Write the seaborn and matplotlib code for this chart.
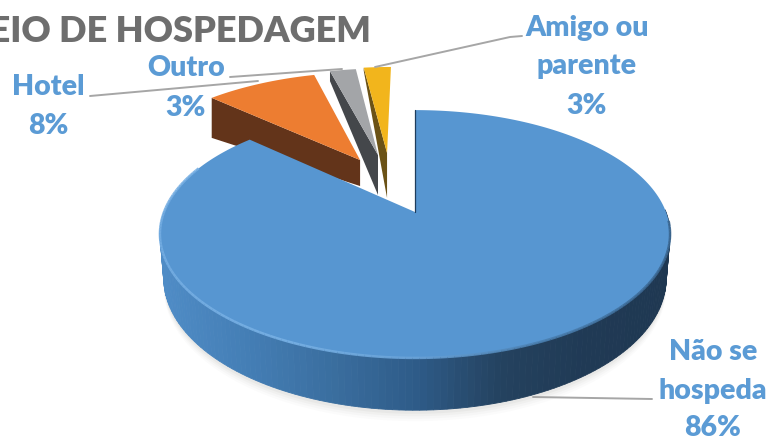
import numpy as np
import matplotlib
matplotlib.use("Agg")
import matplotlib.pyplot as plt
import seaborn as sns

title = "MEIO DE HOSPEDAGEM"
categories = ["Não se hospeda", "Hotel", "Outro", "Amigo ou parente"]
shares = [86.8, 8.9, 2.1, 2.2]
label_pct = [86, 8, 3, 3]

BLUE = "#5796d1"
LABEL = "#5b9bd5"
top_colors = {"Não se hospeda": BLUE, "Amigo ou parente": "#f2b51c", "Outro": "#a3a5a8", "Hotel": "#ed7d31"}
side_colors = {"Amigo ou parente": "#6b5216", "Outro": "#44474b", "Hotel": "#63341a"}
# wall height at outer corner and at apex, per exploded slice
side_depth = {"Amigo ou parente": (3, 45), "Outro": (10, 40), "Hotel": (40, 26)}
# explosion offset of each slice in disk units
explode = {"Amigo ou parente": (-0.122, 0.539), "Outro": (-0.161, 0.519), "Hotel": (-0.237, 0.469)}

# perspective disk
CX, CY, RX, RY, K = 415, 212, 251, 120, 0.1776
DEPTH = 43


def project(u, v, z=0.0):
    s = 1 / (1 + K * v)
    shrink = 1 - 0.015 * (z > 0)
    return CX + RX * u * s * shrink, CY - RY * v * s + z * s


sns.set_theme(style="white")
plt.rcParams["font.family"] = ["Lato", "DejaVu Sans"]
fig = plt.figure(figsize=(7.72, 4.41), dpi=100)
ax = fig.add_axes([0, 0, 1, 1])
ax.set_xlim(0, 772)
ax.set_ylim(441, 0)
ax.axis("off")

# clockwise angles from 12 o'clock, blue starts at 0
start = {}
ang = 0.0
for name, val in zip(categories, shares):
    start[name] = (ang, ang + val * 3.6)
    ang += val * 3.6

a0, a1 = np.radians(start["Não se hospeda"])
arc = np.linspace(a0, a1, 240)

# soft shadow under the disk
for off, alpha in [(9, 0.03), (7, 0.04), (5, 0.05), (3, 0.07)]:
    full = np.linspace(np.pi * 0.45, np.pi * 1.6, 120)
    sx, sy = project(np.sin(full), np.cos(full), DEPTH + off)
    ax.fill(np.r_[sx, CX], np.r_[sy, CY], color="#8c8c80", alpha=alpha, lw=0, zorder=1)

# exploded slices, back to front
for zo, name in enumerate(["Amigo ou parente", "Outro", "Hotel"], start=2):
    b0, b1 = np.radians(start[name])
    du, dv = explode[name]
    th = np.linspace(b0, b1, 30)
    x, y = project(du + np.sin(th), dv + np.cos(th))
    ax_, ay_ = project(du, dv)
    # cut face on the left hand edge, corner at th[0]
    d_corner, d_apex = side_depth[name]
    ax.fill([x[0], ax_, ax_, x[0]], [y[0], ay_, ay_ + d_apex, y[0] + d_corner],
            color=side_colors[name], lw=0, zorder=zo)
    ax.fill(np.r_[ax_, x], np.r_[ay_, y], color=top_colors[name], lw=0, zorder=zo)

# blue wall, shaded by x
wall_pal = sns.blend_palette(["#4f8cc6", "#447eb5", "#3a6e9f", "#2e5b88", "#24425f", "#203a55", "#1f3852"], 200)
for p, q in zip(arc[:-1], arc[1:]):
    if np.cos(p) > 0 and np.cos(q) > 0:
        continue
    xt, yt = project(np.sin([p, q]), np.cos([p, q]))
    xb, yb = project(np.sin([q, p]), np.cos([q, p]), DEPTH)
    t = np.clip((xt.mean() - 160) / 510, 0, 1)
    c = wall_pal[int(t * 199)]
    ax.fill(np.r_[xt, xb], np.r_[yt, yb], color=c, ec=c, lw=0.6, zorder=6)

# blue top face
x, y = project(np.sin(arc), np.cos(arc))
ax.fill(np.r_[CX, x], np.r_[CY, y], color=BLUE, lw=0, zorder=7)
ax.plot([CX, x[0]], [CY, y[0]], color="#1f3d5c", lw=0.9, zorder=8)

# rim along the front edge
rim_pal = sns.blend_palette(["#3a6690", "#4a7fb0", "#6aa3d8", "#78b1e5", "#74ade2"], 200)
for p, q in zip(arc[:-1], arc[1:]):
    if not (np.pi * 0.52 < p < np.pi * 1.62):
        continue
    xr, yr = project(np.sin([p, q]), np.cos([p, q]))
    t = np.clip((xr.mean() - 160) / 510, 0, 1)
    ax.plot(xr, yr, color=rim_pal[int((1 - t) * 199)], lw=1.8, alpha=0.9, solid_capstyle="butt", zorder=8)

# leader lines
for lx, ly in [([90, 258], [96, 81]), ([230, 342], [77, 69]),
               ([375, 510, 522], [67, 37, 36]), ([533, 652], [397, 399])]:
    ax.plot(lx, ly, color="#a6a6a6", lw=1.4, zorder=9)

ax.text(371, 31, title, ha="right", va="center", color="#6e6e6e", fontsize=26, fontweight="heavy", zorder=10)

pct = dict(zip(categories, label_pct))
label_style = dict(ha="center", va="center", color=LABEL, fontsize=20.5, fontweight="heavy", zorder=10)
ax.text(48, 87, "Hotel", **label_style)
ax.text(48, 126, f"{pct['Hotel']}%", **label_style)
ax.text(186, 68, "Outro", **label_style)
ax.text(186, 108, f"{pct['Outro']}%", **label_style)
ax.text(587, 28, "Amigo ou", **label_style)
ax.text(587, 66, "parente", **label_style)
ax.text(587, 106, f"{pct['Amigo ou parente']}%", **label_style)
ax.text(713, 352, "Não se", **label_style)
ax.text(713, 391, "hospeda", **label_style)
ax.text(713, 428, f"{pct['Não se hospeda']}%", **label_style)

plt.savefig("out.png", dpi=100)
plt.close()
